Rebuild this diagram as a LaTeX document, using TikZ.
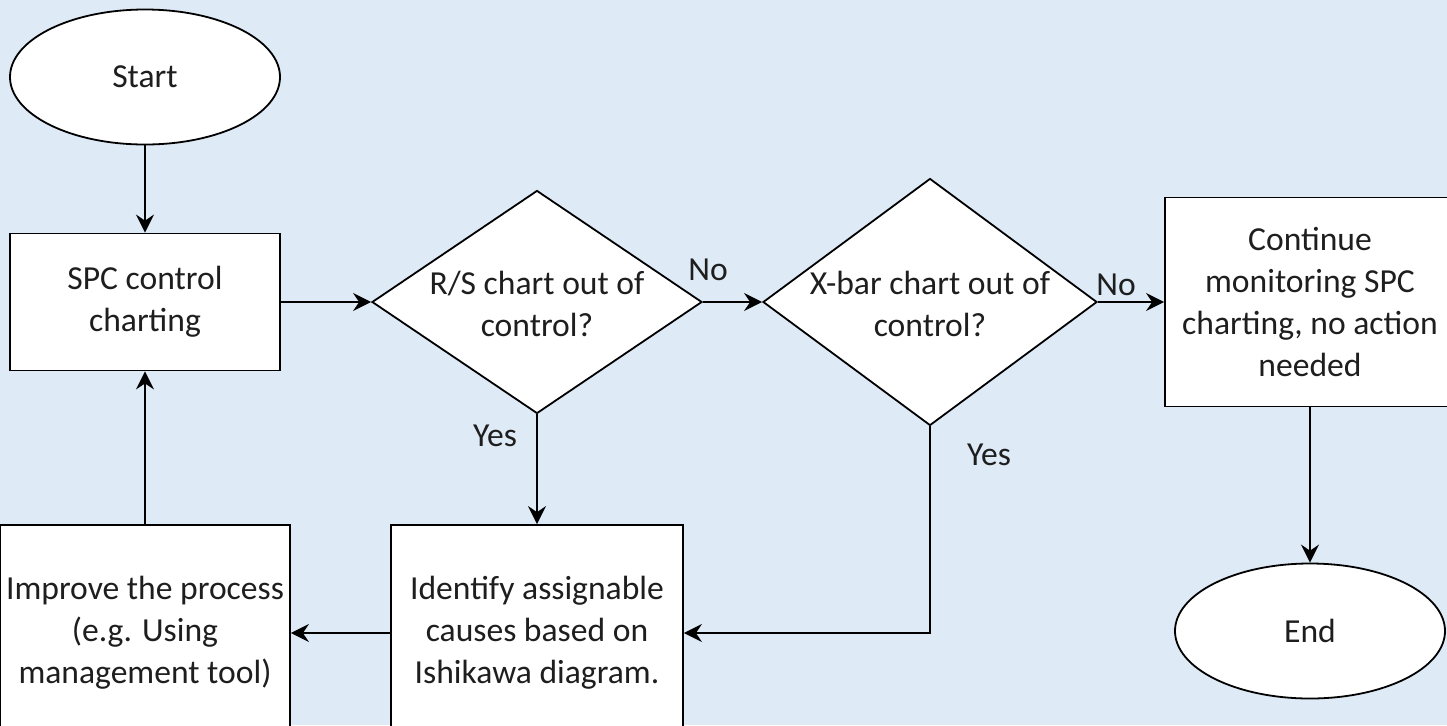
\documentclass[tikz,border=0pt]{standalone}
\usepackage{fontspec}
\setmainfont{Carlito}
\usetikzlibrary{shapes.geometric,arrows.meta}
\definecolor{bgblue}{RGB}{222,234,246}
\definecolor{txt}{RGB}{30,30,30}
\newcommand{\dtext}[2]{\smash{\makebox[0pt]{\raisebox{-7pt}{\begin{tabular}{@{}c@{}}#1\\#2\end{tabular}}}}}
\begin{document}
\begin{tikzpicture}[x=0.5pt,y=-0.5pt,
  every node/.style={font=\fontsize{16.8}{21}\selectfont, text=txt},
  shp/.style={draw=black, fill=white, line width=0.9pt, inner sep=0pt, align=center},
  termbox/.style={shp, ellipse, minimum width=135pt, minimum height=67.5pt},
  procbox/.style={shp, rectangle},
  decbox/.style={shp, diamond},
  lbl/.style={inner sep=0pt},
  conn/.style={line width=0.9pt, -{Stealth[length=9pt,width=9pt,inset=3pt]}}
]
\fill[bgblue] (0,0) rectangle (1447,725);
\useasboundingbox (0,0) rectangle (1447,725);
\clip (0,0) rectangle (1447,725);

\node[termbox] (start) at (145,77) {Start};
\node[procbox, minimum width=135pt, minimum height=68.5pt] (spc) at (145,302) {SPC control\\charting};
\node[decbox, minimum width=165pt, minimum height=111.5pt] (d1) at (537,302) {\dtext{R/S chart out of}{control?}};
\node[decbox, minimum width=167pt, minimum height=123.5pt] (d2) at (930,302) {\dtext{X-bar chart out of}{control?}};
\node[procbox, minimum width=145pt, minimum height=104.5pt] (cont) at (1310,302) {Continue\\monitoring SPC\\charting, no action\\needed};
\node[termbox] (end) at (1310,631) {End};
\node[procbox, minimum width=145pt, minimum height=108pt] (improve) at (145,633) {Improve the process\\(e.g. Using\\management tool)};
\node[procbox, minimum width=146pt, minimum height=108pt] (ident) at (537,633) {Identify assignable\\causes based on\\Ishikawa diagram.};

\node[lbl] (no1) at (708,270) {No};
\node[lbl] (no2) at (1116,285) {No};
\node[lbl] (yes1) at (495,436) {Yes};
\node[lbl] (yes2) at (989,455) {Yes};

\draw[conn] (start) -- (spc);
\draw[conn] (spc) -- (d1.west);
\draw[conn] (d1.east) -- (d2.west);
\draw[conn] (d2.east) -- (cont.west);
\draw[conn] (cont) -- (end);
\draw[conn] (d1.south) -- (ident.north);
\draw[conn] (d2.south) |- (ident.east);
\draw[conn] (ident.west) -- (improve.east);
\draw[conn] (improve.north) -- (spc.south);
\end{tikzpicture}
\end{document}
